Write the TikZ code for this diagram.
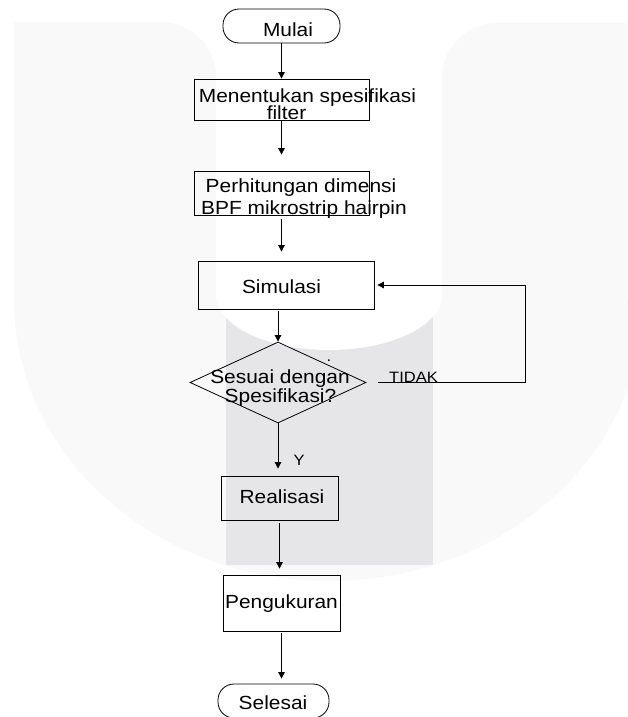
\documentclass[tikz,border=0pt]{standalone}
\usepackage{fontspec}
\setmainfont{Liberation Sans}[FakeStretch=1.1]
\usetikzlibrary{arrows.meta,shapes.geometric}
\definecolor{tipis}{RGB}{249,249,249}
\definecolor{abu}{RGB}{230,230,232}

\begin{document}
\begin{tikzpicture}[x=1pt, y=-1pt,
    kotak/.style={draw, line width=0.8pt, inner sep=0pt},
    ujung/.style={kotak, rounded corners=16pt},
    teks/.style={anchor=base, inner sep=0pt, font=\fontsize{19}{20}\selectfont},
    kecil/.style={anchor=base, inner sep=0pt, font=\fontsize{15}{16}\selectfont},
    alur/.style={draw, line width=0.8pt, -{Triangle[length=6.5pt, width=6.5pt]}}]
      \useasboundingbox (0,0) rectangle (627,717);
      %
      \fill[tipis] (14,300) -- (14,22) -- (161,22) arc[start angle=90, end angle=0, radius=55pt] -- (216,300) -- cycle;   % left pillar
      \fill[tipis] (442,300) -- (442,78) arc[start angle=180, end angle=90, radius=55pt] -- (627,23) -- (627,300) -- cycle; % right pillar
      \fill[tipis] (14,300) -- (216,300) -- (216,250) -- (442,250) -- (442,300) -- (644,300)
                   arc[start angle=0, end angle=-180, x radius=315pt, y radius=281pt] -- cycle;                 % bowl
      \fill[abu] (226,250) rectangle (433,565);                                                                % bar
      \fill[white] (216,240) -- (442,240) -- (442,295) arc[start angle=0, end angle=-180, x radius=113pt, y radius=55pt] -- cycle;
      %
      \node[ujung, minimum width=117pt, minimum height=34pt] (mulai) at (281.5,26) {};      % start
      \node[teks] (tmulai) at (288,37) {Mulai};
      %
      \node[kotak, minimum width=175pt, minimum height=41pt] (spek) at (281.5,99.5) {};      % first box
      \node[teks] (tspek1) at (307.5,102) {Menentukan spesifikasi};
      \node[teks] (tspek2) at (286.5,119) {filter};
      %
      \node[kotak, minimum width=175pt, minimum height=44pt] (hitung) at (281.5,193) {};     % second box
      \node[teks] (thitung1) at (301,192) {Perhitungan dimensi};
      \node[teks] (thitung2) at (304,214) {BPF mikrostrip hairpin};
      %
      \node[kotak, minimum width=176pt, minimum height=48pt] (sim) at (286,285) {};          % third box
      \node[teks] (tsim) at (281.5,293) {Simulasi};
      %
      \node[kotak, diamond, aspect=2.17, minimum width=176pt, minimum height=81pt] (cek) at (278,382.5) {}; % decision
      \node[teks] (tcek1) at (280,383) {Sesuai dengan};
      \node[teks] (tcek2) at (280.5,402) {Spesifikasi?};
      \node[kecil] (titik) at (329,361) {.};
      %
      \node[kotak, minimum width=117pt, minimum height=44pt] (real) at (279.5,498) {};       % fourth box
      \node[teks] (treal) at (282,503) {Realisasi};
      %
      \node[kotak, minimum width=117pt, minimum height=56pt] (ukur) at (281.5,603) {};       % fifth box
      \node[teks] (tukur) at (281.5,608) {Pengukuran};
      %
      \node[ujung, minimum width=111pt, minimum height=34pt] (selesai) at (273.5,701) {};   % end
      \node[teks] (tselesai) at (273,709) {Selesai};
      %
      \draw[alur] (mulai.south) -- (spek.north);                                            % arrows
      \draw[alur, shorten >=16pt] (spek.south) -- (hitung.north);
      \draw[alur, shorten <=4pt, shorten >=9pt] (hitung.south) -- (hitung.south |- sim.north);
      \draw[alur, shorten <=2pt] (cek.north |- sim.south) -- (cek.north);
      \draw[alur, shorten >=7pt] (cek.south) -- (cek.south |- real.north);
      \draw[alur, shorten <=3pt, shorten >=6pt] (real.south) -- (real.south |- ukur.north);
      \draw[alur, shorten <=2pt, shorten >=5pt] (ukur.south) -- (ukur.south |- selesai.north);
      %
      \coordinate (kanan) at (525,382.5);                                                   % loop back
      \draw[alur, shorten <=12pt, shorten >=3pt] (cek.east) -- (kanan) |- (sim.east);
      \node[kecil] (ttidak) at (413.5,382) {TIDAK};
      \node[kecil] (tya) at (299,465) {Y};
      %
    \end{tikzpicture}
\end{document}
